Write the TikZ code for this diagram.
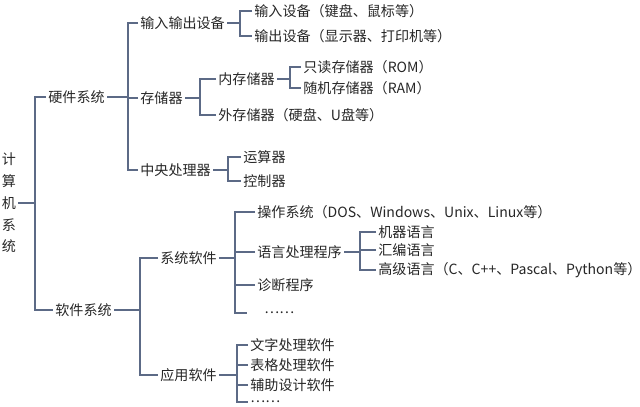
\documentclass[tikz,border=0pt]{standalone}
\usepackage{fontspec}
\newfontfamily\cjk{Noto Sans CJK SC}
\definecolor{linegray}{HTML}{5C6A86}
\begin{document}
\begin{tikzpicture}[x=0.025cm,y=-0.025cm,
  every node/.style={font=\cjk\fontsize{10}{12}\selectfont,inner sep=1.5pt,anchor=west,text=black!85},
  br/.style={draw=linegray,line width=0.8pt}]
\useasboundingbox (0,0) rectangle (640,407);
% root
\node[anchor=center,align=center,font=\cjk\fontsize{10}{15.5}\selectfont] (pc) at (9,203) {计\\算\\机\\系\\统};
\node (hw) at (46,97) {硬件系统};
\node (sw) at (53,310) {软件系统};
\coordinate (b0) at (35,0);
\draw[br] (pc.east) -- (pc.east -| b0);
\draw[br] (hw.west) -| (b0 |- sw.west) -- (sw.west);
% hardware
\node (io) at (138,23) {输入输出设备};
\node (mem) at (138,98) {存储器};
\node (cpu) at (138,170) {中央处理器};
\coordinate (b1) at (128,0);
\draw[br] (hw.east) -- (hw.east -| b1);
\draw[br] (io.west) -| (b1 |- cpu.west) -- (cpu.west);
\draw[br] (mem.west) -- (mem.west -| b1);
% input/output
\node (in) at (252,11) {输入设备（键盘、鼠标等）};
\node (out) at (252,36) {输出设备（显示器、打印机等）};
\coordinate (b2) at (240,0);
\draw[br] (io.east) -- (io.east -| b2);
\draw[br] (in.west) -| (b2 |- out.west) -- (out.west);
% storage
\node (inm) at (216,79) {内存储器};
\node (exm) at (216,115) {外存储器（硬盘、U盘等）};
\coordinate (b3) at (200,0);
\draw[br] (mem.east) -- (mem.east -| b3);
\draw[br] (inm.west) -| (b3 |- exm.west) -- (exm.west);
\node (rom) at (301,67) {只读存储器（ROM）};
\node (ram) at (301,88) {随机存储器（RAM）};
\coordinate (b4) at (290,0);
\draw[br] (inm.east) -- (inm.east -| b4);
\draw[br] (rom.west) -| (b4 |- ram.west) -- (ram.west);
% cpu
\node (alu) at (241,157) {运算器};
\node (ctl) at (241,181) {控制器};
\coordinate (b5) at (228,0);
\draw[br] (cpu.east) -- (cpu.east -| b5);
\draw[br] (alu.west) -| (b5 |- ctl.west) -- (ctl.west);
% software
\node (sys) at (158,258) {系统软件};
\node (app) at (158,375) {应用软件};
\coordinate (b6) at (140,0);
\draw[br] (sw.east) -- (sw.east -| b6);
\draw[br] (sys.west) -| (b6 |- app.west) -- (app.west);
% system software
\node (os) at (255,212) {操作系统（DOS、Windows、Unix、Linux等）};
\node (lang) at (255,252) {语言处理程序};
\node (diag) at (255,285) {诊断程序};
\node (sdots) at (262,313) {……};
\coordinate (b7) at (235,0);
\draw[br] (sys.east) -- (sys.east -| b7);
\draw[br] (os.west) -| (b7 |- sdots.west) -- ++(12,0);
\draw[br] (lang.west) -- (lang.west -| b7);
\draw[br] (diag.west) -- (diag.west -| b7);
\node (mach) at (376,232) {机器语言};
\node (asm) at (376,250) {汇编语言};
\node (high) at (376,270) {高级语言（C、C++、Pascal、Python等）};
\coordinate (b8) at (360,0);
\draw[br] (lang.east) -- (lang.east -| b8);
\draw[br] (mach.west) -| (b8 |- high.west) -- (high.west);
\draw[br] (asm.west) -- (asm.west -| b8);
% application software
\node (word) at (248,345) {文字处理软件};
\node (sheet) at (248,365) {表格处理软件};
\node (cad) at (248,385) {辅助设计软件};
\node (adots) at (248,402) {……};
\coordinate (b9) at (237,0);
\draw[br] (app.east) -- (app.east -| b9);
\draw[br] (word.west) -| (b9 |- adots.west) -- (adots.west);
\draw[br] (sheet.west) -- (sheet.west -| b9);
\draw[br] (cad.west) -- (cad.west -| b9);
\end{tikzpicture}
\end{document}
